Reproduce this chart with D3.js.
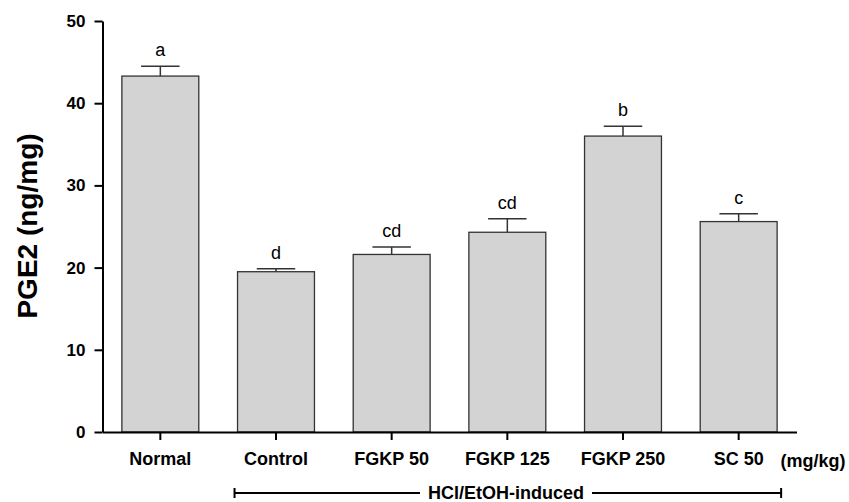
<!DOCTYPE html>
<html>
<head>
<meta charset="utf-8">
<script src="https://cdn.jsdelivr.net/npm/d3@7"></script>
<style>
  body { margin: 0; background: #fff; }
  text { font-family: Arial, "Liberation Sans", sans-serif; }
</style>
</head>
<body>
<svg id="chart" width="849" height="502"></svg>
<script>
"use strict";

var groups = ['Normal', 'Control', 'FGKP 50', 'FGKP 125', 'FGKP 250', 'SC 50'];
var means = [43.3, 19.5, 21.6, 24.3, 36.0, 25.6];
var errors = [1.2, 0.35, 0.9, 1.65, 1.2, 0.95];
var letters = ['a', 'd', 'cd', 'cd', 'b', 'c'];
var yTicks = [0, 10, 20, 30, 40, 50];

function make_plot(svg) {
  var left = 102.5, right = 796.5, top = 21, bottom = 432;

  var x = d3.scaleBand().domain(groups).range([left, right])
    .paddingInner(0.335).paddingOuter(0.1675);
  var y = d3.scaleLinear().domain([0, 50]).range([bottom, top]);

  var data = groups.map(function (g, i) {
    return { group: g, mean: means[i], err: errors[i], letter: letters[i] };
  });

  // bars
  svg.append('g').selectAll('rect')
    .data(data).enter().append('rect')
    .attr('x', d => x(d.group))
    .attr('y', d => y(d.mean))
    .attr('width', x.bandwidth())
    .attr('height', d => y(0) - y(d.mean))
    .attr('fill', '#d3d3d3')
    .attr('stroke', '#333')
    .attr('stroke-width', 1.3);

  // error bars (upper only)
  var eb = svg.append('g').attr('stroke', '#333').attr('stroke-width', 1.5);
  var capW = x.bandwidth() / 2;
  data.forEach(function (d) {
    var cx = x(d.group) + x.bandwidth() / 2;
    eb.append('line')
      .attr('x1', cx).attr('x2', cx)
      .attr('y1', y(d.mean)).attr('y2', y(d.mean + d.err));
    eb.append('line')
      .attr('x1', cx - capW / 2).attr('x2', cx + capW / 2)
      .attr('y1', y(d.mean + d.err)).attr('y2', y(d.mean + d.err));
  });

  // significance letters
  svg.append('g').selectAll('text')
    .data(data).enter().append('text')
    .attr('x', d => x(d.group) + x.bandwidth() / 2)
    .attr('y', d => y(d.mean + d.err) - 10)
    .attr('text-anchor', 'middle')
    .style('font-size', '18px')
    .text(d => d.letter);

  // y axis
  var yAxis = svg.append('g')
    .attr('transform', 'translate(' + left + ',0)')
    .call(d3.axisLeft(y).tickValues(yTicks).tickSize(8).tickPadding(9).tickSizeOuter(0));
  yAxis.select('.domain').attr('stroke-width', 2).attr('stroke', '#000');
  yAxis.selectAll('.tick line').attr('stroke-width', 2);
  yAxis.selectAll('.tick text')
    .style('font-size', '17px').style('font-weight', 'bold')
    .style('font-family', 'Arial, "Liberation Sans", sans-serif');

  // x axis
  var xAxis = svg.append('g')
    .attr('transform', 'translate(0,' + bottom + ')')
    .call(d3.axisBottom(x).tickSize(8).tickPadding(12).tickSizeOuter(0));
  xAxis.select('.domain').attr('stroke-width', 2).attr('stroke', '#000');
  xAxis.selectAll('.tick line').attr('stroke-width', 2);
  xAxis.selectAll('.tick text')
    .style('font-size', '18px').style('font-weight', 'bold')
    .style('font-family', 'Arial, "Liberation Sans", sans-serif');

  svg.append('text')
    .attr('x', 813).attr('y', 467)
    .attr('text-anchor', 'middle')
    .style('font-size', '18px').style('font-weight', 'bold')
    .text('(mg/kg)');

  // y title
  svg.append('text')
    .attr('transform', 'translate(37,226) rotate(-90)')
    .attr('text-anchor', 'middle')
    .style('font-size', '28px').style('font-weight', 'bold')
    .text('PGE2 (ng/mg)');

  // HCl/EtOH-induced bracket
  var bx1 = x('Control') - 3, bx2 = x('SC 50') + x.bandwidth() + 4, by = 493;
  var br = svg.append('g').attr('stroke', '#000').attr('stroke-width', 2);
  br.append('line').attr('x1', bx1).attr('x2', 420).attr('y1', by).attr('y2', by);
  br.append('line').attr('x1', 592).attr('x2', bx2).attr('y1', by).attr('y2', by);
  br.append('line').attr('x1', bx1).attr('x2', bx1).attr('y1', by - 5).attr('y2', by + 5);
  br.append('line').attr('x1', bx2).attr('x2', bx2).attr('y1', by - 5).attr('y2', by + 5);
  svg.append('text')
    .attr('x', 506).attr('y', by + 6)
    .attr('text-anchor', 'middle')
    .style('font-size', '18px').style('font-weight', 'bold')
    .text('HCl/EtOH-induced');
}

make_plot(d3.select('#chart'));
</script>
</body>
</html>
